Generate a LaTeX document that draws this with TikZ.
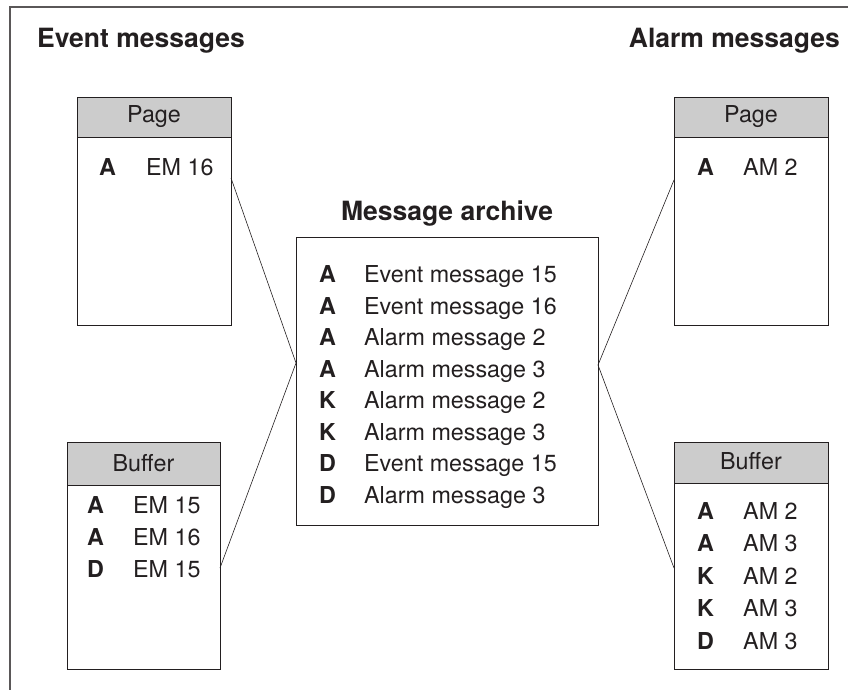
\documentclass[tikz,border=0pt]{standalone}
\usepackage{fontspec}
\setmainfont{TeX Gyre Heros}
\definecolor{ink}{HTML}{231F20}
\definecolor{hdrgray}{HTML}{CCCCCC}
\begin{document}
\begin{tikzpicture}[x=1pt,y=-1pt,
  box/.style={draw=ink,line width=0.8pt,rectangle,inner sep=0pt,anchor=north west},
  hdr/.style={draw=ink,fill=hdrgray,line width=0.8pt,rectangle,inner sep=0pt,anchor=north west},
  txt/.style={anchor=base west,inner sep=0pt,text=ink,font=\fontsize{23.3}{28}\selectfont},
  ctxt/.style={anchor=base,inner sep=0pt,text=ink,font=\fontsize{23.3}{28}\selectfont},
  key/.style={anchor=base west,inner sep=0pt,text=ink,font=\fontsize{23.3}{28}\selectfont\bfseries},
  title/.style={inner sep=0pt,text=ink,font=\fontsize{26.5}{30}\selectfont\bfseries},
  conn/.style={draw=ink,line width=0.6pt},
  frame/.style={draw=ink!75,line width=1.3pt}]
\useasboundingbox (0,0) rectangle (848,690);
% outer frame (only top and left edges visible)
\coordinate (fbl) at (10,690);
\coordinate (ftl) at (10,7);
\coordinate (ftr) at (848,7);
\draw[frame] (fbl) -- (ftl) -- (ftr);
% titles
\node[title,anchor=base west] (evt) at (37,48) {Event messages};
\node[title,anchor=base east] (alm) at (840,48) {Alarm messages};
\node[title,anchor=base] (arct) at (447,220) {Message archive};
% left page
\node[box,minimum width=154pt,minimum height=228pt] (lp) at (77,97) {};
\node[hdr,minimum width=154pt,minimum height=40pt] (lph) at (77,97) {};
\node[ctxt] (lpt) at (154,123) {Page};
\node[key] (lpk1) at (99,175) {A};
\node[txt] (lpe1) at (146,175) {EM 16};
% left buffer
\node[box,minimum width=153pt,minimum height=227pt] (lb) at (67,442) {};
\node[hdr,minimum width=153pt,minimum height=43pt] (lbh) at (67,442) {};
\node[ctxt] (lbt) at (143.5,471) {Buffer};
\node[key] (lbk1) at (87,513) {A};
\node[txt] (lbe1) at (133,513) {EM 15};
\node[key] (lbk2) at (87,545) {A};
\node[txt] (lbe2) at (133,545) {EM 16};
\node[key] (lbk3) at (87,577) {D};
\node[txt] (lbe3) at (133,577) {EM 15};
% right page
\node[box,minimum width=154pt,minimum height=228pt] (rp) at (674,97) {};
\node[hdr,minimum width=154pt,minimum height=40pt] (rph) at (674,97) {};
\node[ctxt] (rpt) at (751,123) {Page};
\node[key] (rpk1) at (697,175) {A};
\node[txt] (rpe1) at (743,175) {AM 2};
% right buffer
\node[box,minimum width=154pt,minimum height=227pt] (rb) at (674,442) {};
\node[hdr,minimum width=154pt,minimum height=41pt] (rbh) at (674,442) {};
\node[ctxt] (rbt) at (751,469) {Buffer};
\node[key] (rbk1) at (697,519) {A};
\node[txt] (rbe1) at (743,519) {AM 2};
\node[key] (rbk2) at (697,551.5) {A};
\node[txt] (rbe2) at (743,551.5) {AM 3};
\node[key] (rbk3) at (697,584) {K};
\node[txt] (rbe3) at (743,584) {AM 2};
\node[key] (rbk4) at (697,616.5) {K};
\node[txt] (rbe4) at (743,616.5) {AM 3};
\node[key] (rbk5) at (697,649) {D};
\node[txt] (rbe5) at (743,649) {AM 3};
% archive
\node[box,minimum width=302pt,minimum height=288pt] (arc) at (296,237) {};
\node[key] (ak1) at (319,282.5) {A};
\node[txt] (at1) at (364,282.5) {Event message 15};
\node[key] (ak2) at (319,314) {A};
\node[txt] (at2) at (364,314) {Event message 16};
\node[key] (ak3) at (319,345.5) {A};
\node[txt] (at3) at (364,345.5) {Alarm message 2};
\node[key] (ak4) at (319,377) {A};
\node[txt] (at4) at (364,377) {Alarm message 3};
\node[key] (ak5) at (319,408.5) {K};
\node[txt] (at5) at (364,408.5) {Alarm message 2};
\node[key] (ak6) at (319,440) {K};
\node[txt] (at6) at (364,440) {Alarm message 3};
\node[key] (ak7) at (319,471.5) {D};
\node[txt] (at7) at (364,471.5) {Event message 15};
\node[key] (ak8) at (319,503) {D};
\node[txt] (at8) at (364,503) {Alarm message 3};
% connector points
\coordinate (lpc) at (231,178);
\coordinate (lbc) at (220,568);
\coordinate (rpc) at (674,180);
\coordinate (rbc) at (674,568);
\coordinate (arl) at (296,363);
\coordinate (arr) at (598,365);
\draw[conn] (lpc) -- (arl) -- (lbc);
\draw[conn] (rpc) -- (arr) -- (rbc);
\end{tikzpicture}
\end{document}
